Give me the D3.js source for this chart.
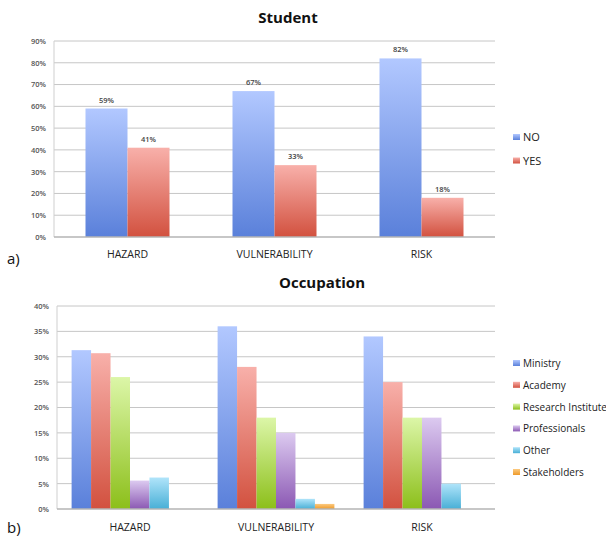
<!DOCTYPE html>
<html>
<head>
<meta charset="utf-8">
<script src="https://cdn.jsdelivr.net/npm/d3@7"></script>
<style>
  html, body { margin: 0; padding: 0; background: #fff; }
  svg { display: block; }
  text { font-family: "Open Sans", "DejaVu Sans", sans-serif; }
</style>
</head>
<body>
<svg id="chart" width="606" height="538"></svg>
<script>
// Survey answers by category
const categories = ["HAZARD", "VULNERABILITY", "RISK"];

// Panel a) Student
const studentSeries = ["NO", "YES"];
const studentNo  = [59, 67, 82];
const studentYes = [41, 33, 18];
const studentTicks = [0, 10, 20, 30, 40, 50, 60, 70, 80, 90];

// Panel b) Occupation
const occupationSeries = ["Ministry", "Academy", "Research Institute", "Professionals", "Other", "Stakeholders"];
const ministry      = [31.3, 36, 34];
const academy       = [30.7, 28, 25];
const research      = [26, 18, 18];
const professionals = [5.6, 15, 18];
const other         = [6.2, 2, 5];
const stakeholders  = [0, 1, 0];
const occupationTicks = [0, 5, 10, 15, 20, 25, 30, 35, 40];

// Gradient stops (top, bottom) per series colour
const palette = {
  blue:   ["#b2c8ff", "#5a80da"],
  red:    ["#f8b0aa", "#d2513f"],
  green:  ["#dcf6a8", "#8cbf1a"],
  purple: ["#dccaf0", "#8b58b3"],
  cyan:   ["#b0e4fa", "#48afd6"],
  orange: ["#fcca80", "#ee9a2a"]
};

const svg = d3.select("#chart");
const defs = svg.append("defs");
Object.entries(palette).forEach(([name, [top, bottom]]) => {
  const g = defs.append("linearGradient")
    .attr("id", "grad-" + name)
    .attr("x1", 0).attr("y1", 0).attr("x2", 0).attr("y2", 1);
  g.append("stop").attr("offset", "0%").attr("stop-color", top);
  g.append("stop").attr("offset", "100%").attr("stop-color", bottom);
});

function drawPanel(cfg) {
  const g = svg.append("g");
  const y = d3.scaleLinear().domain([0, cfg.max]).range([cfg.bottom, cfg.top]);
  const x0 = d3.scaleBand().domain(categories).range([cfg.left, cfg.right]).padding(0);
  const x1 = d3.scaleBand().domain(cfg.series).range([0, x0.bandwidth()])
    .paddingInner(0).paddingOuter(0.75);

  // Horizontal gridlines
  g.append("g").selectAll("line").data(cfg.ticks.filter(t => t > 0)).join("line")
    .attr("x1", cfg.left).attr("x2", cfg.right)
    .attr("y1", d => y(d)).attr("y2", d => y(d))
    .attr("stroke", "#c6c6c6").attr("stroke-width", 1);

  // Left axis line
  g.append("line")
    .attr("x1", cfg.left).attr("x2", cfg.left)
    .attr("y1", y(cfg.max)).attr("y2", y(0))
    .attr("stroke", "#cfcfcf").attr("stroke-width", 1);

  // Y tick labels
  const yAxis = d3.axisLeft(y).tickValues(cfg.ticks)
    .tickFormat(d => d + "%").tickSize(0).tickPadding(8);
  const ay = g.append("g").attr("transform", `translate(${cfg.left},0)`).call(yAxis);
  ay.select(".domain").remove();
  ay.selectAll("text")
    .attr("font-family", "'Open Sans', sans-serif")
    .attr("font-size", 7.5).attr("font-weight", 600).attr("fill", "#555");

  // Bars
  const rows = categories.map((c, i) => ({ cat: c, vals: cfg.values.map(v => v[i]) }));
  const groups = g.append("g").selectAll("g").data(rows).join("g")
    .attr("transform", d => `translate(${x0(d.cat)},0)`);
  groups.selectAll("rect")
    .data(d => d.vals.map((v, k) => ({ s: cfg.series[k], v, k })).filter(e => e.v > 0))
    .join("rect")
    .attr("x", e => x1(e.s))
    .attr("width", x1.bandwidth())
    .attr("y", e => y(e.v))
    .attr("height", e => y(0) - y(e.v))
    .attr("fill", e => `url(#grad-${cfg.colors[e.k]})`);

  if (cfg.labels) {
    groups.selectAll("text.val")
      .data(d => d.vals.map((v, k) => ({ s: cfg.series[k], v })))
      .join("text").attr("class", "val")
      .attr("x", e => x1(e.s) + x1.bandwidth() / 2)
      .attr("y", e => y(e.v) - 6)
      .attr("text-anchor", "middle")
      .attr("font-size", 7.5).attr("font-weight", 600).attr("fill", "#444")
      .text(e => e.v + "%");
  }

  // Baseline
  g.append("line")
    .attr("x1", cfg.left).attr("x2", cfg.right)
    .attr("y1", y(0)).attr("y2", y(0))
    .attr("stroke", "#b4b4b4").attr("stroke-width", 1.5);

  // Category labels
  const xAxis = d3.axisBottom(x0).tickSize(0).tickPadding(0);
  const ax = g.append("g").attr("transform", `translate(0,${cfg.catY})`).call(xAxis);
  ax.select(".domain").remove();
  ax.selectAll("text")
    .attr("dy", 0).attr("y", 0)
    .attr("font-family", "'Open Sans', sans-serif")
    .attr("font-size", 10.5).attr("fill", "#222");

  // Title
  g.append("text")
    .attr("x", cfg.titleX).attr("y", cfg.titleY)
    .attr("text-anchor", "middle")
    .attr("font-family", "Lato, sans-serif")
    .attr("font-size", 15).attr("font-weight", 700).attr("fill", "#111")
    .text(cfg.title);

  // Panel tag
  g.append("text")
    .attr("x", 7).attr("y", cfg.tagY)
    .attr("font-family", "'Liberation Sans', Arial, sans-serif")
    .attr("font-size", 15).attr("fill", "#111")
    .text(cfg.tag);

  // Legend
  const lg = g.append("g").selectAll("g").data(cfg.series).join("g")
    .attr("transform", (d, i) => `translate(${cfg.legendX},${cfg.legendY + i * cfg.legendStep})`);
  lg.append("rect")
    .attr("x", 0).attr("y", -7).attr("width", 7).attr("height", 6)
    .attr("fill", (d, i) => `url(#grad-${cfg.colors[i]})`);
  lg.append("text")
    .attr("x", 10).attr("y", 0)
    .attr("font-family", "'Open Sans', sans-serif")
    .attr("font-size", cfg.legendFont).attr("fill", "#222")
    .text(d => d);
}

drawPanel({
  title: "Student", titleX: 288, titleY: 23,
  tag: "a)", tagY: 264,
  series: studentSeries,
  values: [studentNo, studentYes],
  colors: ["blue", "red"],
  ticks: studentTicks, max: 90,
  left: 54, right: 495, top: 41, bottom: 237,
  catY: 258, labels: true,
  legendX: 513, legendY: 141, legendStep: 23.5, legendFont: 11
});

drawPanel({
  title: "Occupation", titleX: 322, titleY: 288,
  tag: "b)", tagY: 533,
  series: occupationSeries,
  values: [ministry, academy, research, professionals, other, stakeholders],
  colors: ["blue", "red", "green", "purple", "cyan", "orange"],
  ticks: occupationTicks, max: 40,
  left: 57, right: 495, top: 306, bottom: 509,
  catY: 531, labels: false,
  legendX: 513, legendY: 367, legendStep: 21.8, legendFont: 10
});
</script>
</body>
</html>
